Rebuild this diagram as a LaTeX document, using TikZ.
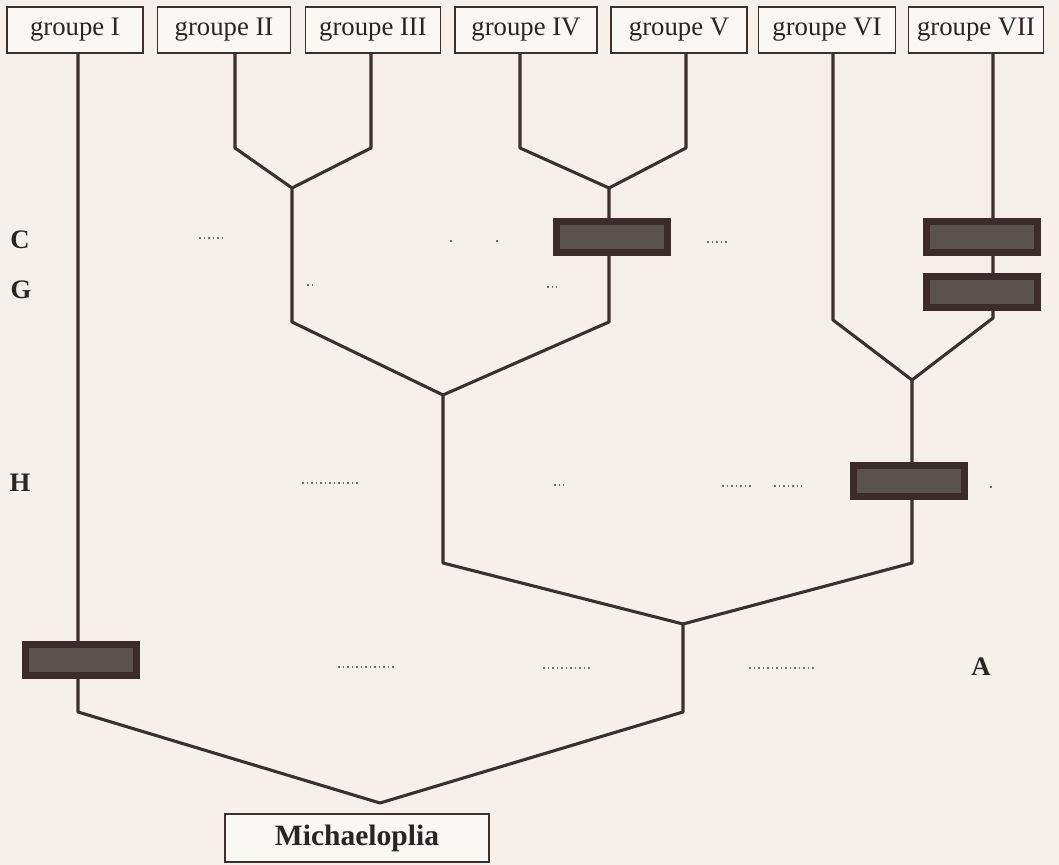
\documentclass[tikz,border=0pt]{standalone}
\usepackage{fontspec}
\setmainfont{Liberation Serif}
\definecolor{paper}{HTML}{F5F1EA}
\definecolor{ink}{HTML}{3A302E}
\definecolor{lettre}{HTML}{2A2422}
\definecolor{boxdark}{HTML}{3B2B29}
\definecolor{boxgrey}{HTML}{5A524F}
\tikzset{
    groupe/.style={draw=ink, line width=1pt, fill=white!50!paper, minimum height=1.15cm, inner sep=0pt, font=\fontsize{19}{22}\selectfont, text=lettre},
    branche/.style={ink, line width=2.2pt, line join=round},
    caractere/.style={draw=boxdark, fill=boxgrey, line width=5pt, minimum width=2.78cm, minimum height=0.78cm},
    niveau/.style={font=\fontsize{19}{22}\selectfont\bfseries, text=lettre},
    trace/.style={ink!70, line width=1.2pt, dotted}
}

\begin{document}
\begin{tikzpicture}[x=0.025cm, y=-0.025cm]
                \fill[paper] (0,0) rectangle (1059,865);
                \useasboundingbox (0,0) rectangle (1059,865);
                \node[groupe, minimum width=3.4cm] (g1) at (75,30) {groupe I};
                \node[groupe, minimum width=3.33cm] (g2) at (224,30) {groupe II};
                \node[groupe, minimum width=3.38cm] (g3) at (373,30) {groupe III};
                \node[groupe, minimum width=3.55cm] (g4) at (526,30) {groupe IV};
                \node[groupe, minimum width=3.4cm] (g5) at (679,30) {groupe V};
                \node[groupe, minimum width=3.43cm] (g6) at (827,30) {groupe VI};
                \node[groupe, minimum width=3.38cm] (g7) at (976,30) {groupe VII};
                \node[groupe, minimum width=6.6cm, minimum height=1.2cm, font=\fontsize{21}{24}\selectfont\bfseries] (mich) at (357,838) {Michaeloplia};
                \coordinate (r0) at (380,803);
                \coordinate (k1) at (78,712);
                \coordinate (kA) at (683,712);
                \coordinate (nA) at (683,624);
                \coordinate (k2) at (443,563);
                \coordinate (k3) at (912,563);
                \coordinate (n23) at (443,395);
                \coordinate (kII) at (292,322);
                \coordinate (kIV) at (609,322);
                \coordinate (nII) at (292,188);
                \coordinate (nIV) at (609,188);
                \coordinate (k21) at (235,148);
                \coordinate (k22) at (371,148);
                \coordinate (k41) at (520,148);
                \coordinate (k42) at (686,148);
                \coordinate (n67) at (912,380);
                \coordinate (k6) at (833,320);
                \coordinate (k7) at (993,318);
                \draw[branche] (g1.south -| k1) -- (k1) -- (r0) -- (kA) -- (nA) -- (k2) -- (n23) -- (kII) -- (nII) -- (k21) -- (g2.south -| k21);
                \draw[branche] (nII) -- (k22) -- (g3.south -| k22);
                \draw[branche] (n23) -- (kIV) -- (nIV) -- (k41) -- (g4.south -| k41);
                \draw[branche] (nIV) -- (k42) -- (g5.south -| k42);
                \draw[branche] (nA) -- (k3) -- (n67) -- (k6) -- (g6.south -| k6);
                \draw[branche] (n67) -- (k7) -- (g7.south -| k7);
                \node[caractere] (cIV) at (612,237) {};
                \node[caractere] (cVII) at (982,237) {};
                \node[caractere] (gVII) at (982,292) {};
                \node[caractere] (hVI) at (909,481) {};
                \node[caractere] (aI) at (81,660) {};
                \node[niveau] (lc) at (20,240) {C};
                \node[niveau] (lg) at (21,290) {G};
                \node[niveau] (lh) at (20,483) {H};
                \node[niveau] (la) at (981,667) {A};
                \foreach \xa/\xb/\yy in {199/222/238, 450/452/241, 496/498/241, 707/728/242,
                    307/316/285, 547/557/287, 302/360/483, 554/564/485, 722/751/486,
                    774/802/486, 990/992/487, 338/395/667, 543/592/668, 749/814/668}
                    \draw[trace] (\xa,\yy) -- (\xb,\yy);
            \end{tikzpicture}
\end{document}
